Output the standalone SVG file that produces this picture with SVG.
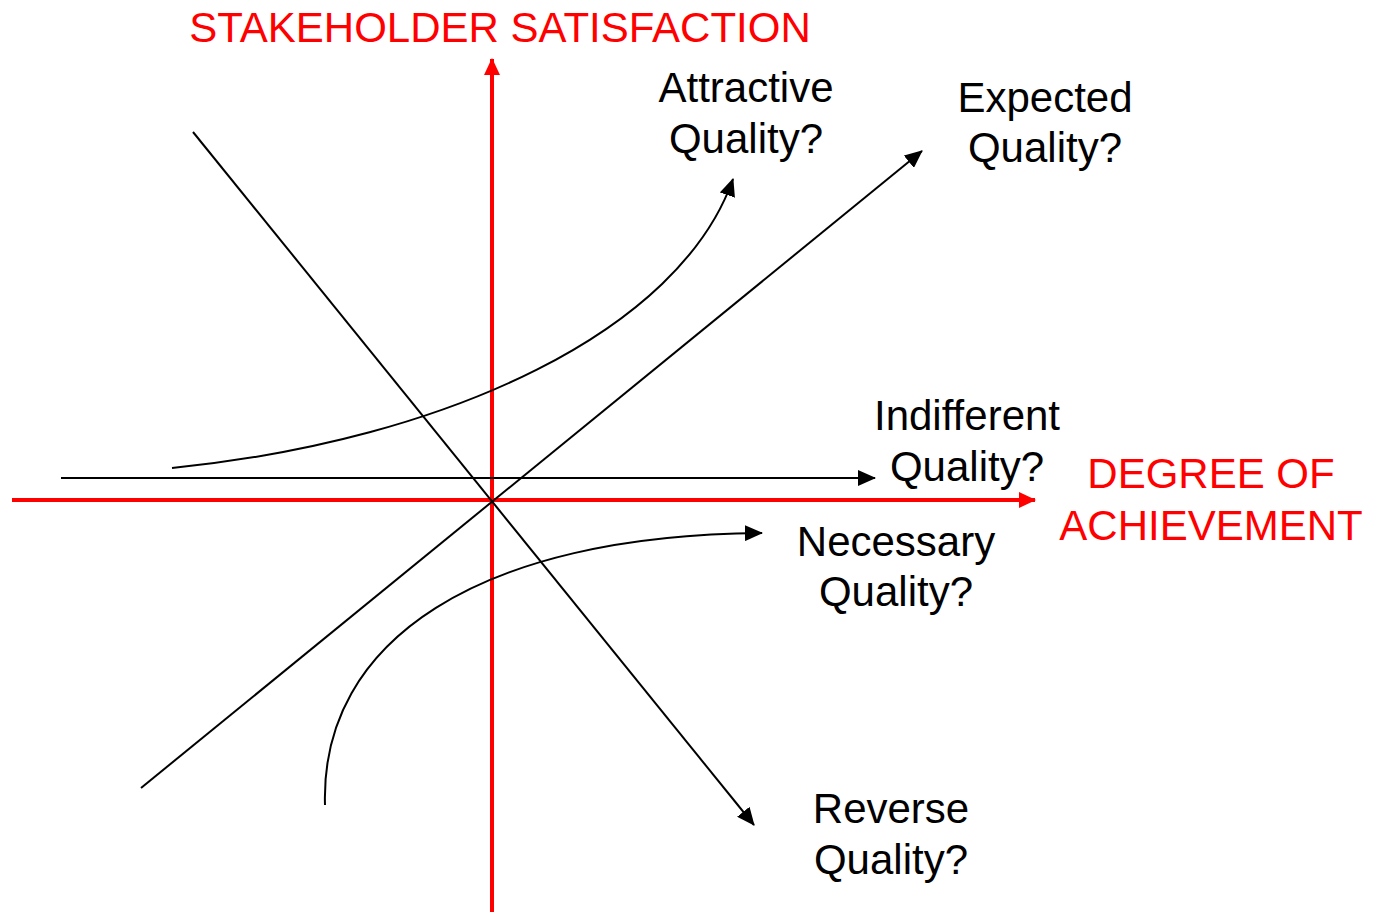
<svg xmlns="http://www.w3.org/2000/svg" width="1374" height="912" viewBox="0 0 1374 912">
<style>
.t{font-family:"Liberation Sans",Arial,sans-serif;font-size:42px;text-anchor:middle;fill:#000}
.r{fill:#ff0000}
.c{fill:none;stroke:#000;stroke-width:2}
.ax{fill:none;stroke:#ff0000;stroke-width:4}
</style>
<defs>
<marker id="ab" markerWidth="18" markerHeight="16" refX="17" refY="8" orient="auto" markerUnits="userSpaceOnUse" viewBox="0 0 18 16"><path d="M0,0 L18,8 L0,16 Z" fill="#000"/></marker>
<marker id="ar" markerWidth="17" markerHeight="16" refX="16" refY="8" orient="auto" markerUnits="userSpaceOnUse" viewBox="0 0 17 16"><path d="M0,0 L17,8 L0,16 Z" fill="#ff0000"/></marker>
</defs>
<g id="axes">
<line class="ax" x1="492" y1="912" x2="492" y2="59" marker-end="url(#ar)"/>
<line class="ax" x1="12" y1="500" x2="1035" y2="500" marker-end="url(#ar)"/>
</g>
<g id="connectors">
<path class="c" d="M172,468 C450,440 680,330 733,179" marker-end="url(#ab)"/>
<line class="c" x1="141" y1="788" x2="922" y2="151" marker-end="url(#ab)"/>
<line class="c" x1="61" y1="478" x2="875" y2="478" marker-end="url(#ab)"/>
<path class="c" d="M325,805 C320,640 480,535 762,533" marker-end="url(#ab)"/>
<line class="c" x1="193" y1="132" x2="754" y2="825" marker-end="url(#ab)"/>
</g>
<g id="y-label"><text class="t r" x="500" y="42">STAKEHOLDER SATISFACTION</text></g>
<g id="x-label"><text class="t r" x="1211" y="488">DEGREE OF</text><text class="t r" x="1211" y="540">ACHIEVEMENT</text></g>
<g id="attractive"><text class="t" x="746" y="102">Attractive</text><text class="t" x="746" y="153">Quality?</text></g>
<g id="expected"><text class="t" x="1045" y="112">Expected</text><text class="t" x="1045" y="162">Quality?</text></g>
<g id="indifferent"><text class="t" x="967" y="430">Indifferent</text><text class="t" x="967" y="481">Quality?</text></g>
<g id="necessary"><text class="t" x="896" y="556">Necessary</text><text class="t" x="896" y="606">Quality?</text></g>
<g id="reverse"><text class="t" x="891" y="823">Reverse</text><text class="t" x="891" y="874">Quality?</text></g>
</svg>
